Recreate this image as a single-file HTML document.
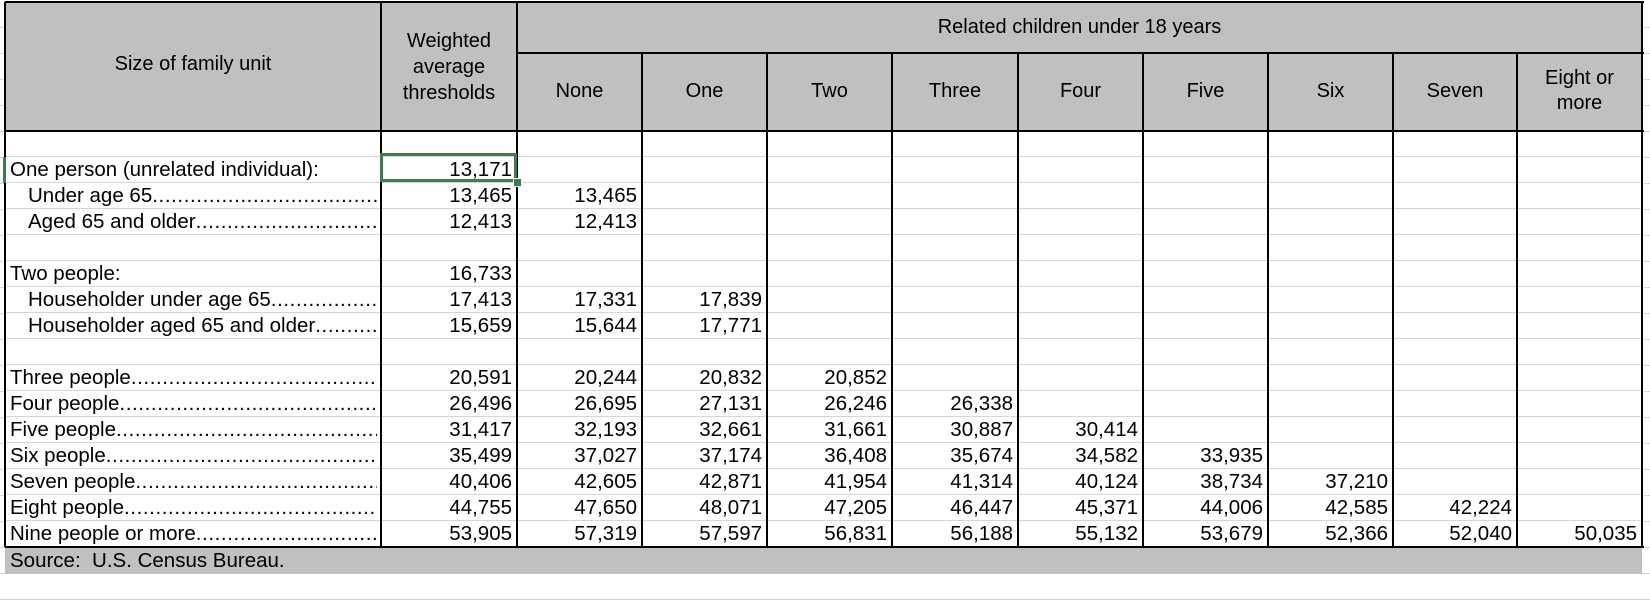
<!DOCTYPE html>
<html>
<head>
<meta charset="utf-8">
<style>
html,body{margin:0;padding:0;background:#fff;}
body{width:1650px;height:574px;position:relative;overflow:hidden;font-family:"Liberation Sans",Arial,sans-serif;color:#000;}
.abs{position:absolute;box-sizing:border-box;}
.grid{position:absolute;height:1px;background:#d6d6d6;}
.vl{position:absolute;width:2px;background:#000;}
.hl{position:absolute;height:2px;background:#000;}
.cell{position:absolute;height:26px;line-height:26px;font-size:20.5px;white-space:nowrap;}
.num{text-align:right;padding-right:5px;box-sizing:border-box;}
.lab{overflow:hidden;display:flex;box-sizing:border-box;}
.lab .dots{overflow:hidden;flex:1;letter-spacing:0.6px;}
.hd{position:absolute;text-align:center;font-size:20px;line-height:25px;}
</style>
</head>
<body>
<div id="sheet"></div>
<script>
const colEdges = [5,381,517,642,767,892,1018,1143,1268,1393,1517,1642];
const childHeaders = ["None","One","Two","Three","Four","Five","Six","Seven","Eight or<br>more"];
const rowLabels = ["","One person (unrelated individual):","Under age 65","Aged 65 and older","","Two people:","Householder under age 65","Householder aged 65 and older","","Three people","Four people","Five people","Six people","Seven people","Eight people","Nine people or more"];
const rowIndent = [0,0,1,1,0,0,1,1,0,0,0,0,0,0,0,0];
const rowDots = [0,0,1,1,0,0,1,1,0,1,1,1,1,1,1,1];
const weighted = [null,"13,171","13,465","12,413",null,"16,733","17,413","15,659",null,"20,591","26,496","31,417","35,499","40,406","44,755","53,905"];
const childValues = [
 [],[],["13,465"],["12,413"],[],[],["17,331","17,839"],["15,644","17,771"],[],
 ["20,244","20,832","20,852"],
 ["26,695","27,131","26,246","26,338"],
 ["32,193","32,661","31,661","30,887","30,414"],
 ["37,027","37,174","36,408","35,674","34,582","33,935"],
 ["42,605","42,871","41,954","41,314","40,124","38,734","37,210"],
 ["47,650","48,071","47,205","46,447","45,371","44,006","42,585","42,224"],
 ["57,319","57,597","56,831","56,188","55,132","53,679","52,366","52,040","50,035"]
];
const sheet = document.getElementById('sheet');
const TOP = 2, HDR_BOT = 131, ROW_H = 26, SUB_Y = 52;
function add(cls, css, html){
  const d = document.createElement('div');
  d.className = cls;
  Object.assign(d.style, css);
  if (html !== undefined) d.innerHTML = html;
  sheet.appendChild(d);
  return d;
}
for (let y = 0; y < 574; y += ROW_H) {
  const g = add('grid', {left:'0px', width:'1650px', top:(TOP + 25 + y)+'px'});
  
  
}
const hb = add('abs', {left:colEdges[0]+'px', top:TOP+'px', width:(colEdges[11]-colEdges[0])+'px', height:(HDR_BOT-TOP)+'px', background:'#c0c0c0'});


const bb = add('abs', {left:colEdges[0]+'px', top:HDR_BOT+'px', width:(colEdges[11]-colEdges[0])+'px', height:(ROW_H*16)+'px', background:'#fff'});


for (let r = 1; r < 16; r++) {
  const g = add('grid', {left:colEdges[0]+'px', width:(colEdges[11]-colEdges[0])+'px', top:(HDR_BOT + r*ROW_H - 1)+'px'});
  
  
}
const srcTop = HDR_BOT + 16*ROW_H;
const sr = add('abs', {left:colEdges[0]+'px', top:srcTop+'px', width:(colEdges[11]-colEdges[0])+'px', height:(574-srcTop)+'px', background:'#c0c0c0'});


const st = add('cell', {left:(colEdges[0]+5)+'px', top:(srcTop+1)+'px'}, 'Source:&nbsp; U.S. Census Bureau.');


const h1 = add('hd', {left:colEdges[0]+'px', width:(colEdges[1]-colEdges[0])+'px', top:'52px'}, 'Size of family unit');


const h2 = add('hd', {left:colEdges[1]+'px', width:(colEdges[2]-colEdges[1])+'px', top:'28px', lineHeight:'26px'}, 'Weighted<br>average<br>thresholds');


const h3 = add('hd', {left:colEdges[2]+'px', width:(colEdges[11]-colEdges[2])+'px', top:'15px'}, 'Related children under 18 years');


childHeaders.forEach((t, i) => {
  const two = t.indexOf('<br>') >= 0;
  const h = add('hd', {left:colEdges[i+2]+'px', width:(colEdges[i+3]-colEdges[i+2])+'px', top:(two ? 66 : 79)+'px'}, t);
  
  
});
rowLabels.forEach((lab, r) => {
  const y = HDR_BOT + r*ROW_H;
  if (lab) {
    const c = add('cell lab', {left:colEdges[0]+'px', top:y+'px', width:(colEdges[1]-colEdges[0]-4)+'px', paddingLeft:(rowIndent[r] ? 23 : 5)+'px'},
      '<span>' + lab + '</span>' + (rowDots[r] ? '<span class="dots">' + '.'.repeat(120) + '</span>' : ''));
    
    
  }
  if (weighted[r]) {
    const c = add('cell num', {left:colEdges[1]+'px', top:y+'px', width:(colEdges[2]-colEdges[1])+'px'}, weighted[r]);
    
    
  }
  childValues[r].forEach((v, j) => {
    const c = add('cell num', {left:colEdges[j+2]+'px', top:y+'px', width:(colEdges[j+3]-colEdges[j+2])+'px'}, v);
    
    
  });
});
const hTop = add('hl', {left:colEdges[0]+'px', width:(colEdges[11]-colEdges[0]+2)+'px', top:(TOP-1)+'px'});
 
const hSub = add('hl', {left:colEdges[2]+'px', width:(colEdges[11]-colEdges[2]+2)+'px', top:SUB_Y+'px'});
 
const hBot = add('hl', {left:colEdges[0]+'px', width:(colEdges[11]-colEdges[0]+2)+'px', top:(HDR_BOT-1)+'px'});
 
const hEnd = add('hl', {left:colEdges[0]+'px', width:(colEdges[11]-colEdges[0]+2)+'px', top:(srcTop-1)+'px'});
 
colEdges.forEach((x, i) => {
  let top = TOP, h = srcTop - TOP;
  if (i >= 3 && i <= 10) { top = SUB_Y; h = srcTop - SUB_Y; }
  const v = add('vl', {left:(x-1)+'px', top:top+'px', height:h+'px'});
  
  
});
const sel = add('abs', {left:(colEdges[1]-1)+'px', top:(HDR_BOT+ROW_H-4)+'px', width:(colEdges[2]-colEdges[1]+1)+'px', height:(ROW_H+3)+'px', border:'3px solid #3e7b4e'});


const handle = add('abs', {left:(colEdges[2]-4)+'px', top:(HDR_BOT+2*ROW_H-5)+'px', width:'9px', height:'9px', background:'#3e7b4e', border:'1px solid #fff'});


const rowMark = add('abs', {left:'3px', top:(HDR_BOT+ROW_H)+'px', width:'3px', height:ROW_H+'px', background:'#3e7b4e'});


</script>
</body>
</html>
